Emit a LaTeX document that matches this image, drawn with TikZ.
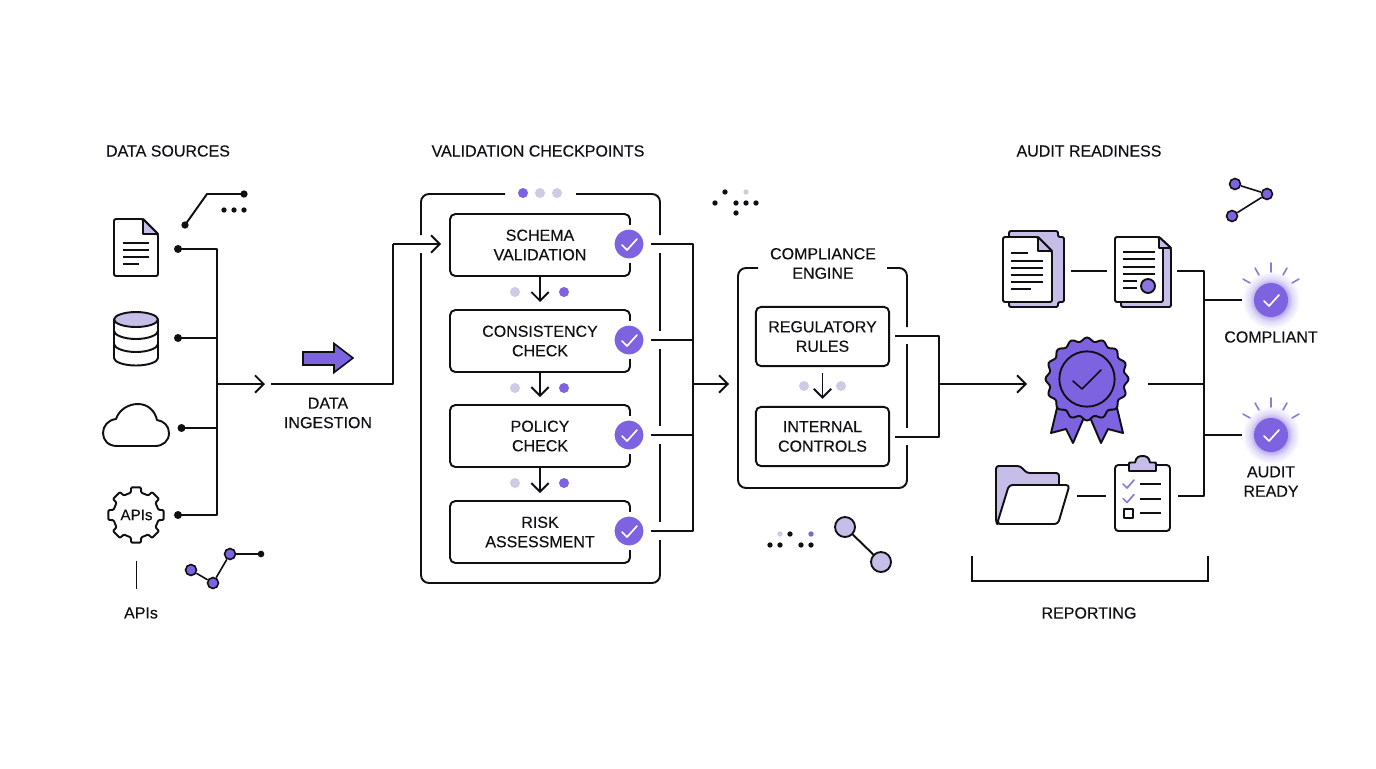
\documentclass[tikz,border=0pt]{standalone}
\usepackage{fontspec}
\setmainfont{Liberation Sans}
\newfontfamily\labfont[FakeBold=0.18]{Liberation Sans}
\usetikzlibrary{arrows.meta,calc}
\definecolor{ink}{HTML}{101014}
\definecolor{pur}{HTML}{7D63E0}
\definecolor{lav}{HTML}{C6BDE9}
\definecolor{pale}{HTML}{CFCBE4}
\definecolor{ray}{HTML}{8F7BD6}
\pgfdeclareradialshading{glowshade}{\pgfpoint{0bp}{0bp}}{color(0bp)=(pur);color(14.5bp)=(pur!55!white);color(18.5bp)=(pur!24!white);color(25bp)=(white);color(50bp)=(white)}
\tikzset{
  ln/.style={draw=ink,line width=1.45pt,line join=round},
  thin ln/.style={draw=ink,line width=1.2pt,line join=round},
  arw/.style={ln,-{Straight Barb[length=6.5pt,width=13pt,line width=1.4pt]}},
  lab/.style={font=\labfont\fontsize{12pt}{14.6pt}\selectfont,text=ink,align=center,inner sep=0pt},
  bx/.style={ln,rounded corners=4pt,minimum width=135pt,minimum height=46.5pt,inner sep=0pt,lab,outer sep=0pt},
  bxc/.style={ln,rounded corners=4pt,minimum width=100pt,minimum height=44.5pt,inner sep=0pt,lab,outer sep=0pt},
  bdot/.style={circle,fill=ink,inner sep=0pt,minimum size=#1},
  bdot/.default=6pt,
  pdot/.style={circle,fill=pur,inner sep=0pt,minimum size=7.5pt},
  ldot/.style={circle,fill=pale,inner sep=0pt,minimum size=7.5pt},
  net/.style={circle,draw=ink,line width=1.2pt,fill=pur,inner sep=0pt,minimum size=8.2pt},
  lolli/.style={circle,draw=ink,line width=1.4pt,fill=lav,inner sep=0pt,minimum size=15pt},
  chk/.style={circle,fill=pur,draw=white,line width=3.4pt,inner sep=0pt,minimum size=25.1pt,outer sep=0pt},
  sheet/.style={ln,fill=white,rounded corners=1.5pt},
  back/.style={ln,fill=lav,rounded corners=1.5pt},
  rayln/.style={draw=ray,line width=1.2pt,line cap=round},
}
\newcommand{\tickat}[3]{\draw[#3,line width=1.25pt,line cap=round,line join=round] ($(#1,#2)+(-7,1)$) -- ($(#1,#2)+(-2,6)$) -- ($(#1,#2)+(8,-5)$);}
\newcommand{\raysat}[2]{%
  \draw[rayln] (#1,#2-37) -- (#1,#2-28);
  \draw[rayln] (#1+12,#2-25) -- (#1+16,#2-32);
  \draw[rayln] (#1-12,#2-25) -- (#1-16,#2-32);
  \draw[rayln] (#1+21,#2-17) -- (#1+28,#2-21);
  \draw[rayln] (#1-21,#2-17) -- (#1-28,#2-21);}
\begin{document}
\begin{tikzpicture}[x=0.75pt,y=-0.75pt]
\useasboundingbox (0,0) rectangle (1376,768);
\fill[white] (0,0) rectangle (1376,768);

% headings
\node[lab] (hSrc) at (168,151) {DATA SOURCES};
\node[lab] (hVal) at (538,151) {VALIDATION CHECKPOINTS};
\node[lab] (hAud) at (1089,151) {AUDIT READINESS};
\node[lab] (hApi) at (141,613) {APIs};
\node[lab] (hIng) at (328,413) {DATA\\INGESTION};
\node[lab] (hRep) at (1089,613) {REPORTING};
\node[lab] (hEng) at (823,263.5) {COMPLIANCE\\ENGINE};
\node[lab] (hCom) at (1271,337) {COMPLIANT};
\node[lab] (hRdy) at (1271,481.5) {AUDIT\\READY};

% document icon
\draw[ln,fill=white,rounded corners=1.5pt] (114,219) -- (143,219) -- (158,234) -- (158,276) -- (114,276) -- cycle;
\draw[ln,fill=lav] (143,219) -- (143,234) -- (158,234) -- cycle;
\draw[thin ln] (123,243) -- (149,243) (123,250) -- (149,250) (123,257) -- (149,257) (123,264) -- (139,264);

% database icon
\draw[ln,fill=white] (114,319.5) -- (114,358) .. controls (114,362) and (124,365.5) .. (136,365.5) .. controls (148,365.5) and (158,362) .. (158,358) -- (158,319.5) -- cycle;
\draw[ln] (114,331) .. controls (114,335) and (124,339) .. (136,339) .. controls (148,339) and (158,335) .. (158,331);
\draw[ln] (114,344) .. controls (114,348) and (124,352) .. (136,352) .. controls (148,352) and (158,348) .. (158,344);
\draw[ln,fill=lav] (114,319.5) .. controls (114,315.5) and (124,312) .. (136,312) .. controls (148,312) and (158,315.5) .. (158,319.5) .. controls (158,323.5) and (148,327) .. (136,327) .. controls (124,327) and (114,323.5) .. (114,319.5) -- cycle;

% cloud icon
\draw[ln] (117,446) .. controls (108,446) and (103,440) .. (103,433) .. controls (103,426) and (108,420) .. (116,419) .. controls (119,410) and (128,404) .. (138,404) .. controls (148,404) and (155,411) .. (157,420) .. controls (164,421) and (169,426) .. (169,433) .. controls (169,441) and (163,446) .. (155,446) -- cycle;

% gear icon
\begin{scope}[shift={(136,515)}]
\draw[ln,rounded corners=0.7pt] (-13:23) \foreach \a in {0,45,...,315} { -- (\a-13:23) -- (\a-10:28) -- (\a+10:28) -- (\a+13:23) } -- cycle;
\end{scope}
\node[lab,font=\labfont\fontsize{11.4pt}{13pt}\selectfont] (gearTxt) at (136.5,515) {APIs};
\coordinate (apiTop) at (136.5,561);
\coordinate (apiBot) at (136.5,589);
\draw[ln] (apiTop) -- (apiBot);

% source bus
\node[bdot] (s1) at (178,249) {};
\node[bdot] (s2) at (178,338) {};
\node[bdot] (s3) at (181.5,428) {};
\node[bdot] (s4) at (178,515) {};
\coordinate (busT) at (217,249);
\coordinate (busB) at (217,515);
\coordinate (bus2) at (217,338);
\coordinate (bus3) at (217,428);
\coordinate (busM) at (217,384);
\coordinate (busEnd) at (265,384);
\draw[ln] (s1.center) -- (busT) -- (busB) -- (s4.center);
\draw[ln] (s2.center) -- (bus2);
\draw[ln] (s3.center) -- (bus3);
\draw[arw] (busM) -- (busEnd);

% upper-left squiggle
\node[bdot=5.5pt] (q1) at (185,225) {};
\node[bdot=5.5pt] (q2) at (244,194) {};
\coordinate (qk) at (207,194);
\draw[ln] (q1.center) -- (qk) -- (q2.center);
\node[bdot=4pt] (q3) at (224,210) {};
\node[bdot=4pt] (q4) at (234,210) {};
\node[bdot=4pt] (q5) at (244,210) {};

% lower-left squiggle
\node[bdot=5pt] (r4) at (261,554) {};
\node[net] (r1) at (191,570) {};
\node[net] (r2) at (213,583) {};
\node[net] (r3) at (230,554) {};
\draw[thin ln] (r1) -- (r2);
\draw[thin ln] (r2) -- (r3);
\draw[thin ln] (r3) -- (r4.center);

% ingestion
\draw[ln,fill=pur,line width=1.2pt,line join=miter] (303,352) -- (334,352) -- (334,343.5) -- (353,358) -- (334,372.5) -- (334,365) -- (303,365) -- cycle;
\coordinate (ingA) at (271,384);
\coordinate (ingB) at (393,384);
\coordinate (ingC) at (393,244);
\coordinate (ingD) at (441,244);
\draw[ln] (ingA) -- (ingB) -- (ingC);
\draw[arw] (ingC) -- (ingD);

% validation container
\draw[ln,rounded corners=6pt] (505,194) -- (421,194) -- (421,235);
\draw[ln,rounded corners=6pt] (421,253) -- (421,583) -- (660,583) -- (660,540);
\draw[ln,rounded corners=6pt] (576,194) -- (660,194) -- (660,235);
\draw[ln] (660,253) -- (660,331) (660,349) -- (660,426) (660,444) -- (660,522);
\node[pdot] (t1) at (523,193) {};
\node[ldot] (t2) at (540,193) {};
\node[ldot] (t3) at (557,193) {};

% validation boxes
\node[bx] (v1) at (540,245) {SCHEMA\\VALIDATION};
\node[bx] (v2) at (540,341) {CONSISTENCY\\CHECK};
\node[bx] (v3) at (540,436) {POLICY\\CHECK};
\node[bx] (v4) at (540,532) {RISK\\ASSESSMENT};
\node[chk] (c1) at (629,244) {};
\node[chk] (c2) at (629,340) {};
\node[chk] (c3) at (629,435) {};
\node[chk] (c4) at (629,531) {};
\tickat{629}{244}{white}
\tickat{629}{340}{white}
\tickat{629}{435}{white}
\tickat{629}{531}{white}
\draw[arw,shorten >=6pt] (v1.south) -- (v2.north);
\draw[arw,shorten >=6pt] (v2.south) -- (v3.north);
\draw[arw,shorten >=6pt] (v3.south) -- (v4.north);
\node[ldot] (g1) at (515,292) {};
\node[pdot] (g2) at (564,292) {};
\node[ldot] (g3) at (515,388) {};
\node[pdot] (g4) at (564,388) {};
\node[ldot] (g5) at (515,483) {};
\node[pdot] (g6) at (564,483) {};

% validation bus
\coordinate (o1) at (651,244);
\coordinate (o2) at (651,340);
\coordinate (o3) at (651,435);
\coordinate (o4) at (651,531);
\coordinate (vb1) at (693,244);
\coordinate (vb2) at (693,340);
\coordinate (vb3) at (693,435);
\coordinate (vb4) at (693,531);
\coordinate (vbM) at (693,384);
\coordinate (vbE) at (729,384);
\draw[ln] (o1) -- (vb1) -- (vb4) -- (o4);
\draw[ln] (o2) -- (vb2);
\draw[ln] (o3) -- (vb3);
\draw[arw] (vbM) -- (vbE);

% compliance container
\draw[ln,rounded corners=6pt] (758,268) -- (738,268) -- (738,488) -- (907,488) -- (907,445);
\draw[ln,rounded corners=6pt] (887,268) -- (907,268) -- (907,327);
\draw[ln] (907,344) -- (907,428);
\node[bxc] (e1) at (822.5,336.5) {REGULATORY\\RULES};
\node[bxc] (e2) at (822.5,436.5) {INTERNAL\\CONTROLS};
\draw[arw,shorten <=5pt,shorten >=6pt] (e1.south) -- (e2.north);
\node[ldot] (e3) at (804,386) {};
\node[ldot] (e4) at (841,386) {};
\coordinate (eo1) at (895,336);
\coordinate (eo2) at (895,437);
\coordinate (eb1) at (939,336);
\coordinate (eb2) at (939,437);
\coordinate (ebM) at (939,384);
\coordinate (ebE) at (1027,384);
\draw[ln] (eo1) -- (eb1) -- (eb2) -- (eo2);
\draw[arw] (ebM) -- (ebE);

% scattered dots
\node[bdot=4pt] (a1) at (725,192) {};
\node[circle,fill=pale,inner sep=0pt,minimum size=4pt] (a2) at (746,192) {};
\node[bdot=4pt] (a3) at (715,203) {};
\node[bdot=4pt] (a4) at (736,203) {};
\node[bdot=4pt] (a5) at (746,203) {};
\node[bdot=4pt] (a6) at (756,203) {};
\node[bdot=4pt] (a7) at (736,213) {};
\node[circle,fill=pale,inner sep=0pt,minimum size=4pt] (b1) at (780,534) {};
\node[bdot=4pt] (b2) at (790,534) {};
\node[circle,fill=pur,inner sep=0pt,minimum size=4pt] (b3) at (811,534) {};
\node[bdot=4pt] (b4) at (770,545) {};
\node[bdot=4pt] (b5) at (780,545) {};
\node[bdot=4pt] (b6) at (801,545) {};
\node[bdot=4pt] (b7) at (811,545) {};

% lollipop
\node[lolli] (l1) at (845,527) {};
\node[lolli] (l2) at (881,562) {};
\draw[ln] (l1) -- (l2);

% stacked documents
\draw[back] (1009,237) -- (1009,231) -- (1058,231) -- (1058,237) -- (1064,237) -- (1064,302) -- (1058,302) -- (1058,307) -- (1009,307) -- cycle;
\draw[sheet] (1003,237) -- (1038,237) -- (1052,251) -- (1052,302) -- (1003,302) -- cycle;
\draw[ln,fill=lav] (1038,237) -- (1038,251) -- (1052,251) -- cycle;
\draw[ln] (1011,253) -- (1028,253) (1011,261) -- (1043,261) (1011,268) -- (1043,268) (1011,275) -- (1043,275) (1011,282) -- (1043,282) (1011,289) -- (1031,289);
\coordinate (sd1) at (1071,271);
\coordinate (sd2) at (1107,271);
\draw[ln] (sd1) -- (sd2);

% certificate document
\draw[back] (1159,237) -- (1171,248) -- (1171,307) -- (1121,307) -- (1121,295) -- cycle;
\draw[sheet] (1115,237) -- (1159,237) -- (1163,241) -- (1163,302) -- (1115,302) -- cycle;
\draw[ln,fill=lav] (1159,237) -- (1159,248) -- (1171,248) -- cycle;
\draw[ln] (1123,252) -- (1155,252) (1123,259) -- (1155,259) (1123,267) -- (1155,267) (1123,274) -- (1155,274) (1123,281) -- (1137,281) (1123,288) -- (1137,288);
\node[circle,draw=ink,line width=1.4pt,fill=pur!80!lav,inner sep=0pt,minimum size=10.5pt] (seal) at (1148,286) {};

% rosette
\draw[ln,fill=pur] (1057,408) -- (1051,433) -- (1066,429) -- (1073,443) -- (1085,415) -- cycle;
\draw[ln,fill=pur] (1117,408) -- (1123,433) -- (1108,429) -- (1101,443) -- (1089,415) -- cycle;
\begin{scope}[shift={(1087,379)}]
\draw[ln,fill=pur] plot[smooth,domain=0:360,samples=129] (\x:{39.6+1.9*cos(16*\x)}) -- cycle;
\node[circle,draw=ink,line width=1.4pt,fill=pur,inner sep=0pt,minimum size=41.5pt] (ros) at (0,0) {};
\end{scope}
\draw[ln,line width=1.2pt,line cap=round] (1073,381) -- (1082,389) -- (1101,370);
\coordinate (rosIn) at (1148,384);

% folder
\draw[back,rounded corners=2pt] (998,525) -- (996,522) -- (996,466) -- (1020,466) -- (1027,473) -- (1059,473) -- (1059,490) -- (1010,490) -- cycle;
\draw[sheet,rounded corners=2.5pt] (1009,485) -- (1069.5,485) -- (1058,524) -- (997,524) -- cycle;
\coordinate (fo1) at (1077,496);
\coordinate (fo2) at (1106,496);
\draw[ln] (fo1) -- (fo2);

% clipboard
\draw[sheet,rounded corners=2.5pt] (1115,465) -- (1170,465) -- (1170,531) -- (1115,531) -- cycle;
\draw[ln,fill=lav,line join=round] (1129,471) -- (1129,464) .. controls (1129,462.5) .. (1131,462.5) -- (1135,462.5) .. controls (1136,457) and (1139,456) .. (1142.5,456) .. controls (1146,456) and (1149,457) .. (1150,462.5) -- (1154,462.5) .. controls (1156,462.5) .. (1156,464) -- (1156,471) -- cycle;
\draw[draw=ray,line width=1.3pt,line cap=round,line join=round] (1123,484) -- (1127,488) -- (1134,480);
\draw[draw=ray,line width=1.3pt,line cap=round,line join=round] (1123,498.5) -- (1127,502.5) -- (1134,494.5);
\draw[ln] (1140,484) -- (1161,484) (1140,499) -- (1161,499) (1140,513) -- (1161,513);
\draw[ln] (1124,509) rectangle (1133,518);

% audit bus
\coordinate (ab1) at (1177,271);
\coordinate (abT) at (1204,271);
\coordinate (abB) at (1204,496);
\coordinate (ab4) at (1178,496);
\coordinate (abC) at (1204,300);
\coordinate (abM) at (1204,384);
\coordinate (abR) at (1204,435);
\coordinate (abCe) at (1244,300);
\coordinate (abRe) at (1244,435);
\draw[ln] (ab1) -- (abT) -- (abB) -- (ab4);
\draw[ln] (rosIn) -- (abM);
\draw[ln] (abC) -- (abCe);
\draw[ln] (abR) -- (abRe);

% status badges
\shade[shading=glowshade] (1271,300) circle[radius=29];
\shade[shading=glowshade] (1271,435) circle[radius=29];
\node[circle,fill=pur,inner sep=0pt,minimum size=25.5pt] (okC) at (1271,300) {};
\node[circle,fill=pur,inner sep=0pt,minimum size=25.5pt] (okR) at (1271,435) {};
\tickat{1271}{300}{white}
\tickat{1271}{435}{white}
\raysat{1271}{300}
\raysat{1271}{435}

% network top right
\node[net] (n1) at (1235,184) {};
\node[net] (n2) at (1267,194) {};
\node[net] (n3) at (1232,216) {};
\draw[thin ln] (n1) -- (n2);
\draw[thin ln] (n2) -- (n3);

% report bracket
\coordinate (rb1) at (972,556);
\coordinate (rb2) at (972,581);
\coordinate (rb3) at (1208,581);
\coordinate (rb4) at (1208,556);
\draw[ln,line join=miter] (rb1) -- (rb2) -- (rb3) -- (rb4);
\end{tikzpicture}
\end{document}
